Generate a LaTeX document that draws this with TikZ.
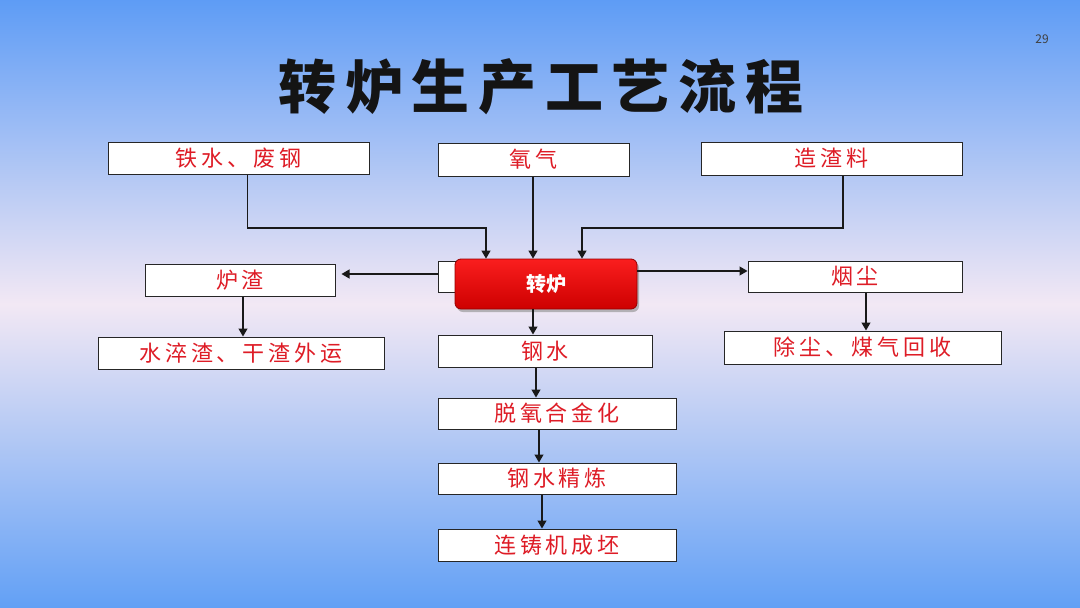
\documentclass[tikz,border=0pt]{standalone}
\usepackage{fontspec}
\usetikzlibrary{arrows.meta,shadows}
\newfontfamily\cjkbox[LetterSpace=18]{Noto Sans CJK SC}
\newfontfamily\cjktitle[LetterSpace=15]{Noto Sans CJK SC}
\newfontfamily\cjkplain{Noto Sans CJK SC}
\definecolor{bgtop}{RGB}{94,156,245}
\definecolor{bgmid}{RGB}{242,232,244}
\definecolor{bgbot}{RGB}{98,160,245}
\definecolor{txtred}{RGB}{222,28,38}
\definecolor{redtop}{RGB}{250,30,30}
\definecolor{redbot}{RGB}{205,0,0}
\definecolor{redborder}{RGB}{150,0,0}
\begin{document}
\begin{tikzpicture}[x=1pt,y=-1pt,
  flowbox/.style={draw=black!85,line width=1pt,fill=white,inner sep=0pt,
    text=txtred,font=\cjkbox\fontsize{22}{24}\selectfont},
  arr/.style={draw=black!90,line width=1.2pt,-{Triangle[length=8pt,width=9pt]}},
  conn/.style={draw=black!90,line width=1.2pt}]
\useasboundingbox (0,0) rectangle (1080,608);
\shade[top color=bgtop,bottom color=bgbot,middle color=bgmid] (0,0) rectangle (1080,608);
% title and page number
\node (title) at (541,87) {\cjktitle\bfseries\fontsize{58}{62}\selectfont\color{black!92}转炉生产工艺流程};
\node (pg) at (1042,39) {\cjkplain\fontsize{12}{14}\selectfont\color{black!75}29};
% input boxes
\node[flowbox,minimum width=261,minimum height=32] (ts) at (238.5,158) {铁水、废钢};
\node[flowbox,minimum width=191,minimum height=33] (yq) at (533.5,159.5) {氧气};
\node[flowbox,minimum width=261,minimum height=33] (zz) at (831.5,158.5) {造渣料};
% converter
\node[flowbox,minimum width=182,minimum height=31] (lzback) at (529,276.5) {};
\node[draw=redborder,line width=0.8pt,rounded corners=6pt,top color=redtop,bottom color=redbot,
  drop shadow={shadow xshift=2pt,shadow yshift=-3pt,fill=black!45,opacity=0.6},
  minimum width=182,minimum height=50,inner sep=0pt,text=white,
  font=\cjkplain\bfseries\fontsize{20}{22}\selectfont] (lz) at (546,284) {转炉};
% side boxes
\node[flowbox,minimum width=190,minimum height=32] (lzz) at (240,280) {炉渣};
\node[flowbox,minimum width=286,minimum height=32] (sc) at (241,353) {水淬渣、干渣外运};
\node[flowbox,minimum width=214,minimum height=31] (yc) at (855,276.5) {烟尘};
\node[flowbox,minimum width=277,minimum height=33] (cc) at (862.5,347.5) {除尘、煤气回收};
% main chain
\node[flowbox,minimum width=214,minimum height=32] (gs) at (545,351) {钢水};
\node[flowbox,minimum width=238,minimum height=31] (tl) at (557,413.5) {脱氧合金化};
\node[flowbox,minimum width=238,minimum height=31] (jl) at (557,478.5) {钢水精炼};
\node[flowbox,minimum width=238,minimum height=32] (lc) at (557,545) {连铸机成坯};
% helper coordinates
\coordinate (j1) at (486,228);
\coordinate (j2) at (582,228);
\coordinate (xa) at (247.5,0);
\coordinate (xb) at (843,0);
\coordinate (xo) at (533,0);
\coordinate (yl) at (0,274);
\coordinate (yr) at (0,271);
\coordinate (x1) at (536,0);
\coordinate (x2) at (539,0);
\coordinate (x3) at (542,0);
\coordinate (xs) at (243,0);
\coordinate (xy) at (866,0);
% connectors
\draw[arr] (ts.south -| xa) |- (j1) -- (j1 |- lz.north);
\draw[arr] (yq.south -| xo) -- (lz.north -| xo);
\draw[arr] (zz.south -| xb) |- (j2) -- (j2 |- lz.north);
\draw[arr,shorten >=6pt] (lzback.west |- yl) -- (lzz.east |- yl);
\draw[arr] (lz.east |- yr) -- (yc.west |- yr);
\draw[arr] (lz.south -| xo) -- (gs.north -| xo);
\draw[arr] (lzz.south -| xs) -- (sc.north -| xs);
\draw[arr] (yc.south -| xy) -- (cc.north -| xy);
\draw[arr] (gs.south -| x1) -- (tl.north -| x1);
\draw[arr] (tl.south -| x2) -- (jl.north -| x2);
\draw[arr] (jl.south -| x3) -- (lc.north -| x3);
\end{tikzpicture}
\end{document}
